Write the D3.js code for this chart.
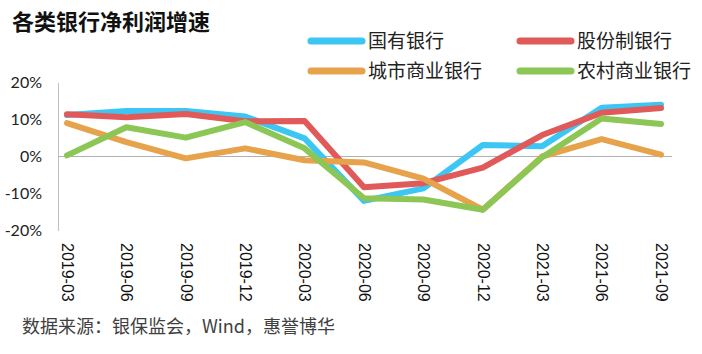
<!DOCTYPE html>
<html>
<head>
<meta charset="utf-8">
<script src="https://cdn.jsdelivr.net/npm/d3@7"></script>
<style>
  body { margin: 0; background: #fff; }
  svg { display: block; }
</style>
</head>
<body>
<svg id="chart" width="702" height="354"></svg>
<script>
// quarters on the x axis
let quarters = ["2019-03", "2019-06", "2019-09", "2019-12", "2020-03", "2020-06",
                "2020-09", "2020-12", "2021-03", "2021-06", "2021-09"]
let yTicks = [-20, -10, 0, 10, 20]

// net profit growth, %
let stateBanks = [11.2, 12.3, 12.3, 10.8, 4.9, -12.0, -8.6, 3.1, 2.8, 13.2, 14.0]
let jointStock = [11.4, 10.6, 11.5, 9.5, 9.6, -8.3, -7.2, -3.0, 5.8, 11.8, 13.1]
let cityBanks  = [9.0, 3.9, -0.5, 2.2, -1.0, -1.6, -6.0, -14.4, 0.0, 4.7, 0.5]
let ruralBanks = [0.3, 7.9, 5.1, 9.3, 2.2, -11.3, -11.6, -14.4, -0.2, 10.3, 8.8]

let seriesNames = ["国有银行", "股份制银行", "城市商业银行", "农村商业银行"]
let seriesColors = ["#3cc6f4", "#e05a5a", "#e6a34c", "#8cc655"]

let series = [stateBanks, jointStock, cityBanks, ruralBanks].map((vals, i) => ({
    name: seriesNames[i],
    color: seriesColors[i],
    values: vals
}))

let svg = d3.select("#chart")

svg.append("rect").attr("width", 702).attr("height", 354).attr("fill", "#fff")

let x = d3.scalePoint().domain(quarters).range([67, 661])
let y = d3.scaleLinear().domain([-20, 20]).range([230.5, 82.5])

// title
svg.append("text")
   .text("各类银行净利润增速")
   .attr("x", 12)
   .attr("y", 30)
   .style("font-family", "'Noto Sans CJK SC'")
   .style("font-size", "22px")
   .style("font-weight", "bold")
   .attr("fill", "#111")

// y axis
let yAxis = svg.append("g")
   .attr("transform", "translate(58,0)")
   .call(d3.axisLeft(y).tickValues(yTicks).tickFormat(d => d + "%").tickSize(0).tickSizeOuter(0).tickPadding(16))
yAxis.select(".domain").attr("stroke", "#c0c0c0")
yAxis.selectAll("text")
     .style("font-family", "Lato")
     .style("font-size", "16px")
     .attr("fill", "#222")

// zero line
svg.append("line")
   .attr("x1", 58).attr("x2", 672)
   .attr("y1", y(0)).attr("y2", y(0))
   .attr("stroke", "#b0b0b0")
   .attr("stroke-width", 1)

// x axis labels, rotated
let xAxis = svg.append("g")
   .attr("transform", "translate(0,243)")
   .call(d3.axisBottom(x).tickSize(0))
xAxis.select(".domain").remove()
xAxis.selectAll("text")
     .attr("x", 0)
     .attr("y", 0)
     .attr("dy", "0.35em")
     .attr("transform", "rotate(90)")
     .style("text-anchor", "start")
     .style("font-family", "'Liberation Sans'")
     .style("font-size", "16px")
     .attr("fill", "#111")

// lines
let line = d3.line()
             .x((d, i) => x(quarters[i]))
             .y(d => y(d))

svg.selectAll(".series")
   .data(series)
   .enter()
   .append("path")
   .attr("class", "series")
   .attr("d", d => line(d.values))
   .attr("fill", "none")
   .attr("stroke", d => d.color)
   .attr("stroke-width", 6)
   .attr("stroke-linejoin", "round")
   .attr("stroke-linecap", "round")

// legend
let legendPos = [[308, 41], [517, 41], [308, 71], [517, 71]]
let legend = svg.selectAll(".legend")
   .data(series)
   .enter()
   .append("g")
   .attr("class", "legend")
   .attr("transform", (d, i) => `translate(${legendPos[i][0]}, ${legendPos[i][1]})`)

legend.append("line")
      .attr("x1", 3).attr("x2", 54)
      .attr("y1", 0).attr("y2", 0)
      .attr("stroke", d => d.color)
      .attr("stroke-width", 7)
      .attr("stroke-linecap", "round")

legend.append("text")
      .text(d => d.name)
      .attr("x", 60)
      .attr("y", 0)
      .attr("dy", "0.35em")
      .style("font-family", "'Noto Sans CJK SC'")
      .style("font-size", "19px")
      .attr("fill", "#222")

// source note
svg.append("text")
   .text("数据来源：银保监会，Wind，惠誉博华")
   .attr("x", 22)
   .attr("y", 327)
   .attr("dy", "0.35em")
   .style("font-family", "'Noto Sans CJK SC'")
   .style("font-size", "18px")
   .attr("fill", "#404040")
</script>
</body>
</html>
